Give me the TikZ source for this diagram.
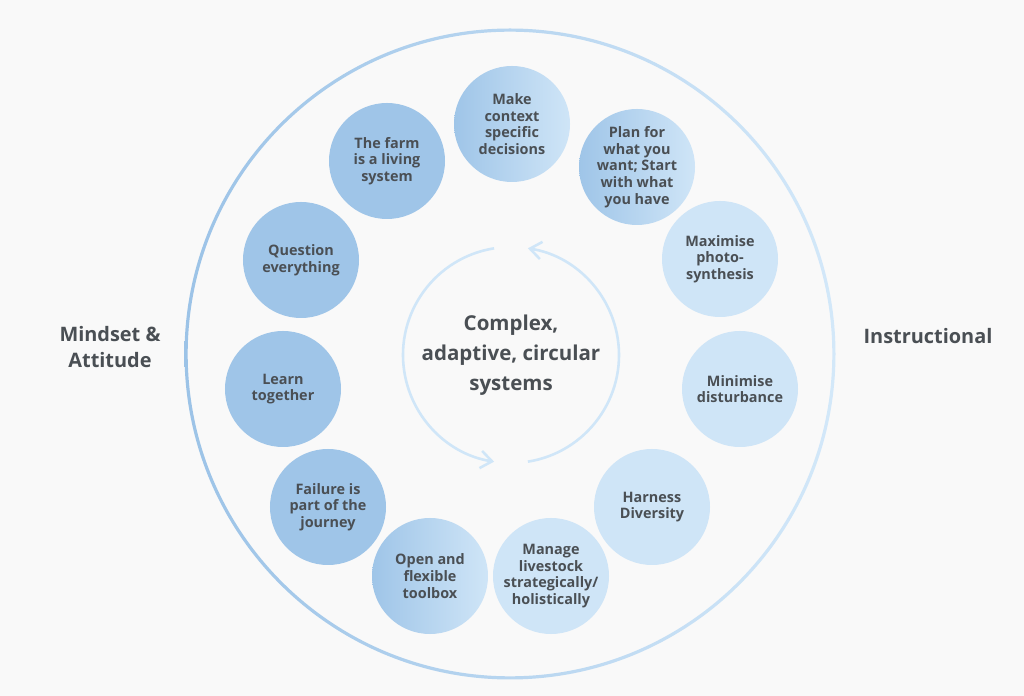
\documentclass[tikz,border=0pt]{standalone}
\usepackage{fontspec}
\setmainfont{Open Sans}
\usetikzlibrary{arrows.meta}
\definecolor{bgc}{HTML}{F9F9F9}
\definecolor{darkb}{HTML}{9FC5E8}
\definecolor{lightb}{HTML}{CFE5F7}
\definecolor{ringl}{HTML}{9CC3E7}
\definecolor{ringr}{HTML}{D3E8F9}
\definecolor{cycc}{HTML}{D0E6F8}
\definecolor{txt}{HTML}{4A4F54}
\tikzset{
  idea/.style={circle, minimum size=3.48cm, inner sep=0pt, align=center, text=txt,
    font=\bfseries\fontsize{12.3}{14.2}\selectfont},
  mind/.style={idea, fill=darkb},
  instr/.style={idea, fill=lightb},
  mixed/.style={idea, left color=darkb, right color=lightb},
  side/.style={text=txt, align=center, font=\bfseries\fontsize{17}{21.5}\selectfont},
  cyc/.style={draw=cycc, line width=2.2pt, -{Straight Barb[length=3.4mm,width=5.2mm]}}
}
\begin{document}
\begin{tikzpicture}[x=0.03cm,y=0.03cm]
\fill[bgc] (0,0) rectangle (1024,696);
\coordinate (c) at (510,342);
\coordinate (o) at (511,341);
% outer ring
\shade[even odd rule, left color=ringl, right color=ringr]
  (c) circle[radius=325.5] (c) circle[radius=322.3];
% the cycle in the middle
\draw[cyc] (o) ++(-81:108) arc[start angle=-81, end angle=81, radius=108];
\draw[cyc] (o) ++(99:108) arc[start angle=99, end angle=261, radius=108];
\node[text=txt, align=center, font=\bfseries\fontsize{17.5}{25.5}\selectfont] (core) at (o)
  {Complex,\\adaptive, circular\\systems};
% mindset & attitude
\node[mind] (farm) at (387,535) {The farm\\is a living\\system};
\node[mind] (question) at (301,436) {Question\\everything};
\node[mind] (learn) at (283,307) {Learn\\together};
\node[mind] (failure) at (328,189) {Failure is\\part of the\\journey};
% in between
\node[mixed] (context) at (512,572) {Make\\context\\specific\\decisions};
\node[mixed] (plan) at (637,529) {Plan for\\what you\\want; Start\\with what\\you have};
\node[mixed] (toolbox) at (430,120) {Open and\\flexible\\toolbox};
% instructional
\node[instr] (photo) at (720,437) {Maximise\\photo-\\synthesis};
\node[instr] (disturb) at (740,307) {Minimise\\disturbance};
\node[instr] (diversity) at (652,189) {Harness\\Diversity};
\node[instr] (livestock) at (551,120) {Manage\\livestock\\strategically/\\holistically};
% side labels
\node[side] (mindset) at (110,349) {Mindset \&\\Attitude};
\node[side] (instruct) at (928,360) {Instructional};
\end{tikzpicture}
\end{document}
